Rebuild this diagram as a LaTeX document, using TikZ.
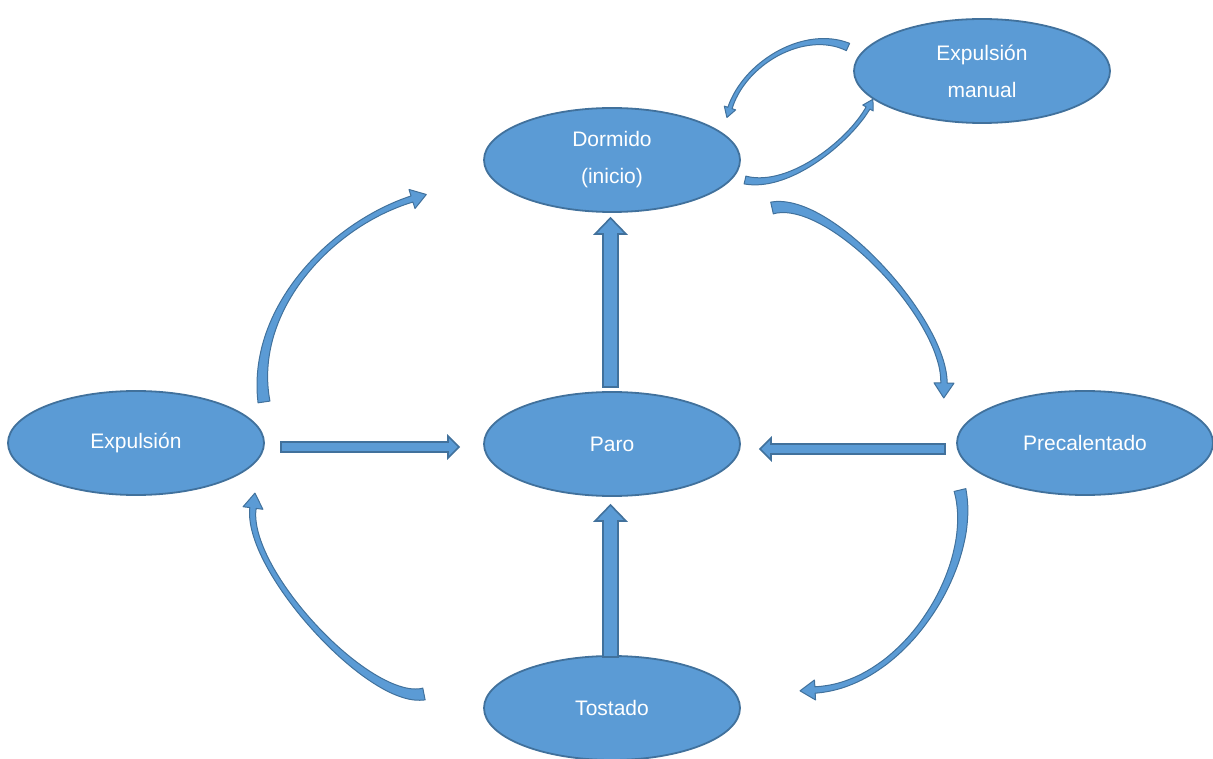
\documentclass[tikz,border=0pt]{standalone}
\usepackage{fontspec}
\setmainfont{Liberation Sans}
\usetikzlibrary{shapes.geometric}
\definecolor{nodefill}{HTML}{5B9BD5}
\definecolor{nodeline}{HTML}{41719C}
\tikzset{
  state/.style={ellipse, fill=nodefill, draw=nodeline, line width=1.8pt,
    minimum width=256pt, minimum height=104pt, inner sep=0pt, text=white,
    align=center, font=\fontsize{21}{37}\selectfont},
  blockarrow/.style={fill=nodefill, draw=nodeline, line width=1.6pt, line join=miter},
  curvedarrow/.style={fill=nodefill, draw=nodeline, line width=1pt, line join=round},
  declare function={
    bx(\t)=(1-\t)^3*\XA+3*(1-\t)^2*\t*\XB+3*(1-\t)*\t^2*\XC+\t^3*\XD;
    by(\t)=(1-\t)^3*\YA+3*(1-\t)^2*\t*\YB+3*(1-\t)*\t^2*\YC+\t^3*\YD;
    dbx(\t)=3*(1-\t)^2*(\XB-\XA)+6*(1-\t)*\t*(\XC-\XB)+3*\t^2*(\XD-\XC);
    dby(\t)=3*(1-\t)^2*(\YB-\YA)+6*(1-\t)*\t*(\YC-\YB)+3*\t^2*(\YD-\YC);
    nrx(\t)=-dby(\t)/veclen(dbx(\t),dby(\t));
    nry(\t)=dbx(\t)/veclen(dbx(\t),dby(\t));
    hw(\t)=\HA*(1-\t)^2+\HM*2*\t*(1-\t)+\HB*\t^2;
  }
}
% tapered curved arrow along a cubic bezier
\newcommand\taperarrow[8]{%
  \def\XA{#1}\def\YA{#2}\def\XB{#3}\def\YB{#4}\def\XC{#5}\def\YC{#6}\def\XD{#7}\def\YD{#8}%
  \pgfmathsetmacro\ux{(\XD-\XC)/veclen(\XD-\XC,\YD-\YC)}%
  \pgfmathsetmacro\uy{(\YD-\YC)/veclen(\XD-\XC,\YD-\YC)}%
  \pgfmathsetmacro\vx{-\uy}\pgfmathsetmacro\vy{\ux}%
  \path[curvedarrow]
    plot[domain=0:1,samples=40,variable=\t,smooth] ({bx(\t)+hw(\t)*nrx(\t)},{by(\t)+hw(\t)*nry(\t)})
    -- ({\XD+\HO*\vx},{\YD+\HO*\vy})
    -- ({\XD+\HL*\ux+\HS*\vx},{\YD+\HL*\uy+\HS*\vy})
    -- ({\XD-\HI*\vx},{\YD-\HI*\vy})
    -- plot[domain=1:0,samples=40,variable=\t,smooth] ({bx(\t)-hw(\t)*nrx(\t)},{by(\t)-hw(\t)*nry(\t)})
    -- cycle;
}
\begin{document}
\begin{tikzpicture}[x=1pt,y=-1pt]
\useasboundingbox (0,0) rectangle (1213,759);

% states
\node[state] (dormido) at (612,160) {Dormido\\(inicio)};
\node[state] (manual) at (982,71) {Expulsión\\manual};
\node[state] (expulsion) at (136,443) {Expulsión};
\node[state] (paro) at (612,444) {Paro};
\node[state] (precal) at (1085,443) {Precalentado};
\node[state] (tostado) at (612,708) {Tostado};

% straight block arrows
\path[blockarrow] (603,387) -- (603,234) -- (595,234) -- (610.5,218) -- (626,234) -- (618,234) -- (618,387) -- cycle;
\path[blockarrow] (603,657) -- (603,521) -- (595,521) -- (610.5,505) -- (626,521) -- (618,521) -- (618,657) -- cycle;
\path[blockarrow] (281,442) -- (448,442) -- (448,436) -- (459,447) -- (448,458) -- (448,452) -- (281,452) -- cycle;
\path[blockarrow] (945,444) -- (771,444) -- (771,438) -- (760,449) -- (771,460) -- (771,454) -- (945,454) -- cycle;

% curved arrows (large)
\def\HA{6}\def\HM{1.3}\def\HB{3.2}\def\HO{10}\def\HI{10}\def\HL{15}\def\HS{0}
\taperarrow{264}{402}{250}{310}{330}{225}{412}{199}   % Expulsion -> Dormido
\taperarrow{772}{208}{830}{195}{945}{320}{944}{383}   % Dormido -> Precalentado
\taperarrow{960}{490}{978}{565}{905}{685}{815}{690}   % Precalentado -> Tostado
\taperarrow{424}{694}{370}{705}{245}{570}{253}{508}   % Tostado -> Expulsion
% curved arrows (small)
\def\HA{4}\def\HM{1.2}\def\HB{2.2}\def\HO{6}\def\HI{6}\def\HL{10}\def\HS{0}
\taperarrow{848}{47}{805}{28}{745}{62}{730}{108}      % Expulsion manual -> Dormido
\taperarrow{745}{180}{790}{190}{850}{140}{868}{108}   % Dormido -> Expulsion manual
\end{tikzpicture}
\end{document}
